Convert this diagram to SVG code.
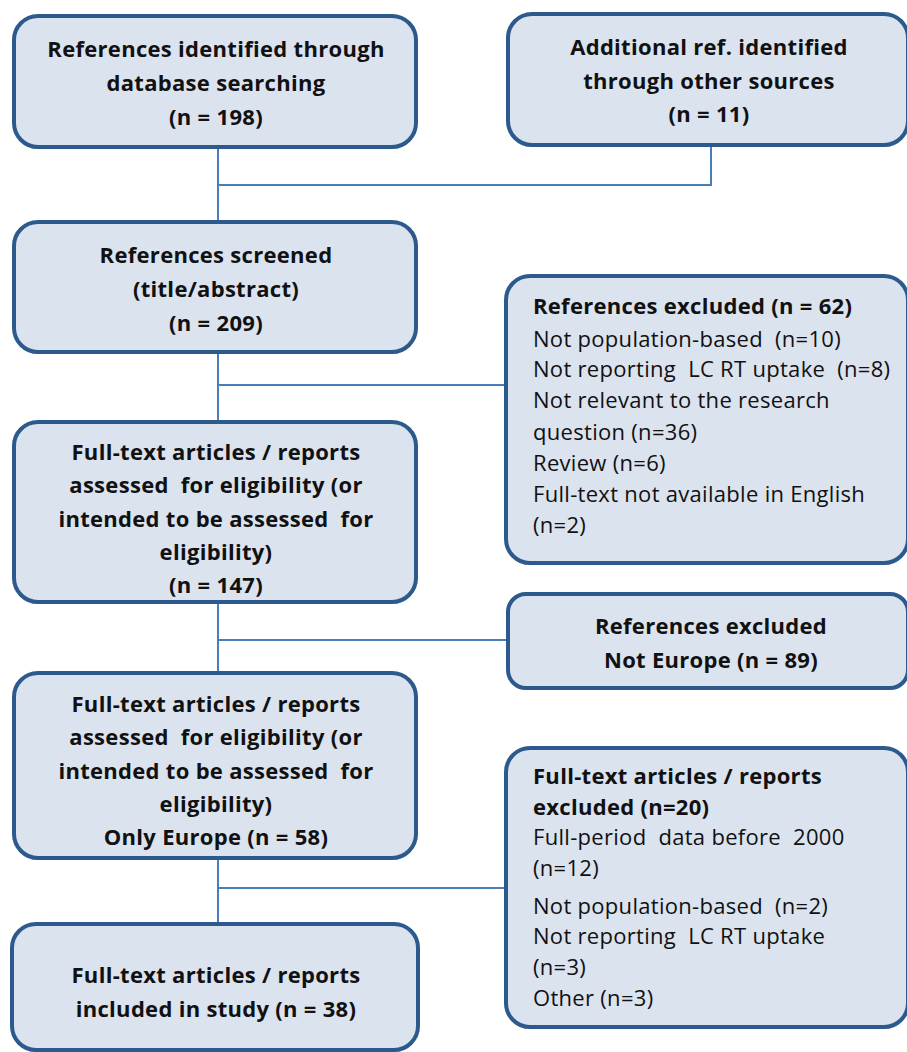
<svg xmlns="http://www.w3.org/2000/svg" width="907" height="1052" viewBox="0 0 907 1052">
<style>
.box{fill:#dbe3ef;stroke:#2d5a8c;stroke-width:4}
.t{font-family:"Open Sans","Noto Sans","Liberation Sans",sans-serif;font-size:22px;letter-spacing:0.3px;fill:#111;white-space:pre}
.b{font-weight:bold;text-anchor:middle}
.bl{font-weight:bold}
.c{fill:none;stroke:#4a7ebb;stroke-width:2}
</style>
<rect width="907" height="1052" fill="#fff"/>
<g id="connectors">
<path class="c" d="M218 147V222M218 185H711V145"/>
<path class="c" d="M218 352V422M218 385H506"/>
<path class="c" d="M218 602V673M218 640H508"/>
<path class="c" d="M218 858V924M218 888H506"/>
</g>
<g id="n1"><rect class="box" x="14" y="16" width="402" height="131" rx="24"/>
<text class="t b" x="216" y="57">References identified through</text>
<text class="t b" x="216" y="91">database searching</text>
<text class="t b" x="216" y="125">(n = 198)</text></g>
<g id="n2"><rect class="box" x="508" y="14" width="400" height="131" rx="24"/>
<text class="t b" x="709" y="55">Additional ref. identified</text>
<text class="t b" x="709" y="89">through other sources</text>
<text class="t b" x="709" y="122">(n = 11)</text></g>
<g id="n3"><rect class="box" x="14" y="222" width="402" height="130" rx="24"/>
<text class="t b" x="216" y="263">References screened</text>
<text class="t b" x="216" y="297">(title/abstract)</text>
<text class="t b" x="216" y="331">(n = 209)</text></g>
<g id="n4"><rect class="box" x="506" y="276" width="402" height="287" rx="24"/>
<text class="t bl" x="533" y="314">References excluded (n = 62)</text>
<text class="t" x="533" y="347">Not population-based  (n=10)</text>
<text class="t" x="533" y="377">Not reporting  LC RT uptake  (n=8)</text>
<text class="t" x="533" y="408">Not relevant to the research</text>
<text class="t" x="533" y="440">question (n=36)</text>
<text class="t" x="533" y="471">Review (n=6)</text>
<text class="t" x="533" y="502">Full-text not available in English</text>
<text class="t" x="533" y="533">(n=2)</text></g>
<g id="n5"><rect class="box" x="14" y="422" width="402" height="180" rx="24"/>
<text class="t b" x="216" y="460">Full-text articles / reports</text>
<text class="t b" x="216" y="493">assessed  for eligibility (or</text>
<text class="t b" x="216" y="527">intended to be assessed  for</text>
<text class="t b" x="216" y="560">eligibility)</text>
<text class="t b" x="216" y="593">(n = 147)</text></g>
<g id="n6"><rect class="box" x="508" y="594" width="400" height="94" rx="18"/>
<text class="t b" x="711" y="634">References excluded</text>
<text class="t b" x="711" y="668">Not Europe (n = 89)</text></g>
<g id="n7"><rect class="box" x="14" y="673" width="402" height="185" rx="24"/>
<text class="t b" x="216" y="712">Full-text articles / reports</text>
<text class="t b" x="216" y="745">assessed  for eligibility (or</text>
<text class="t b" x="216" y="779">intended to be assessed  for</text>
<text class="t b" x="216" y="812">eligibility)</text>
<text class="t b" x="216" y="845">Only Europe (n = 58)</text></g>
<g id="n8"><rect class="box" x="506" y="748" width="402" height="279" rx="24"/>
<text class="t bl" x="533" y="784">Full-text articles / reports</text>
<text class="t bl" x="533" y="815">excluded (n=20)</text>
<text class="t" x="533" y="845">Full-period  data before  2000</text>
<text class="t" x="533" y="876">(n=12)</text>
<text class="t" x="533" y="914">Not population-based  (n=2)</text>
<text class="t" x="533" y="944">Not reporting  LC RT uptake</text>
<text class="t" x="533" y="975">(n=3)</text>
<text class="t" x="533" y="1006">Other (n=3)</text></g>
<g id="n9"><rect class="box" x="12" y="924" width="406" height="126" rx="24"/>
<text class="t b" x="216" y="983">Full-text articles / reports</text>
<text class="t b" x="216" y="1017">included in study (n = 38)</text></g>
</svg>
